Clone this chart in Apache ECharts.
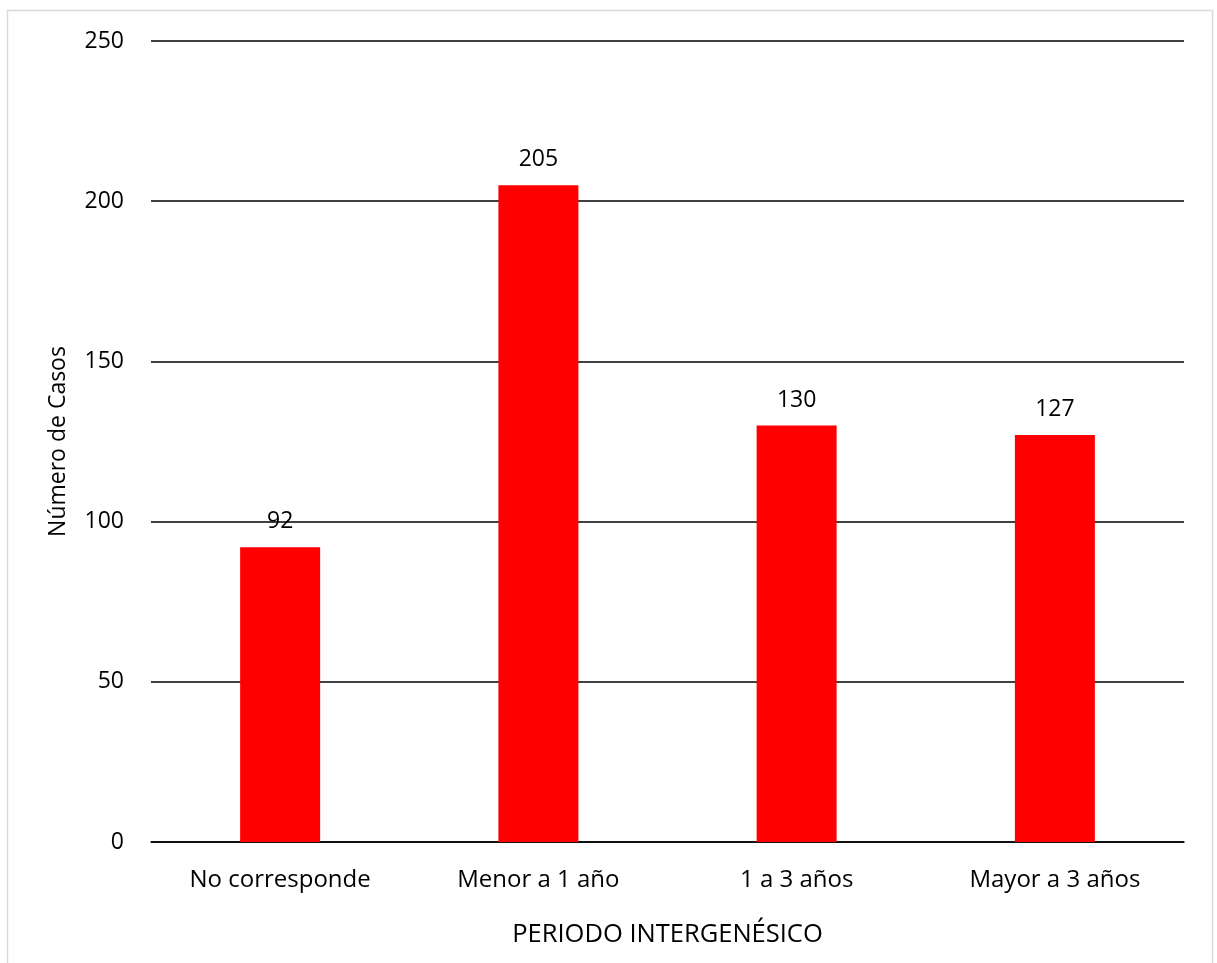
<!DOCTYPE html>
<html>
<head>
<meta charset="utf-8">
<script src="https://cdn.jsdelivr.net/npm/echarts@6/dist/echarts.min.js"></script>
<style>
  html, body { margin: 0; padding: 0; background: #fff; }
  #chart { width: 1217px; height: 963px; }
</style>
</head>
<body>
<div id="chart"></div>
<script>
// Intergenesic period categories and case counts
const categories = ['No corresponde', 'Menor a 1 año', '1 a 3 años', 'Mayor a 3 años'];
const casos = [92, 205, 130, 127];
const yTicks = { min: 0, max: 250, interval: 50 };

const FONT = '"Open Sans", "Noto Sans", sans-serif';
const FS = 23;
const chart = echarts.init(document.getElementById('chart'), null, { renderer: 'canvas' });

chart.setOption({
  backgroundColor: '#ffffff',
  animation: false,
  graphic: [{
    type: 'rect',
    shape: { x: 7.5, y: 10.5, width: 1205, height: 970 },
    style: { fill: 'none', stroke: '#d9d9d9', lineWidth: 1.5 },
    silent: true,
    z: -1
  }],
  grid: { left: 151, right: 33, top: 41, bottom: 121, containLabel: false },
  xAxis: {
    type: 'category',
    data: categories,
    name: 'PERIODO INTERGENÉSICO',
    nameLocation: 'middle',
    nameGap: 80,
    nameTextStyle: { fontFamily: FONT, fontSize: 25.5, color: '#000' },
    axisLine: { show: true, lineStyle: { color: '#000', width: 1.5 } },
    axisTick: { show: false },
    axisLabel: { fontFamily: FONT, fontSize: 24, color: '#000', margin: 26 }
  },
  yAxis: {
    type: 'value',
    min: yTicks.min,
    max: yTicks.max,
    interval: yTicks.interval,
    name: 'Número de Casos',
    nameLocation: 'middle',
    nameGap: 81,
    nameRotate: 90,
    nameTextStyle: { fontFamily: FONT, fontSize: FS, color: '#000' },
    axisLine: { show: false },
    axisTick: { show: false },
    axisLabel: { fontFamily: FONT, fontSize: FS, color: '#000', margin: 27 },
    splitLine: { show: true, lineStyle: { color: '#000', width: 1.5 } }
  },
  series: [{
    type: 'bar',
    data: casos,
    barWidth: 80,
    itemStyle: { color: '#ff0000' },
    label: {
      show: true,
      position: 'top',
      distance: 14,
      fontFamily: FONT,
      fontSize: FS,
      color: '#000'
    }
  }]
});
</script>
</body>
</html>
